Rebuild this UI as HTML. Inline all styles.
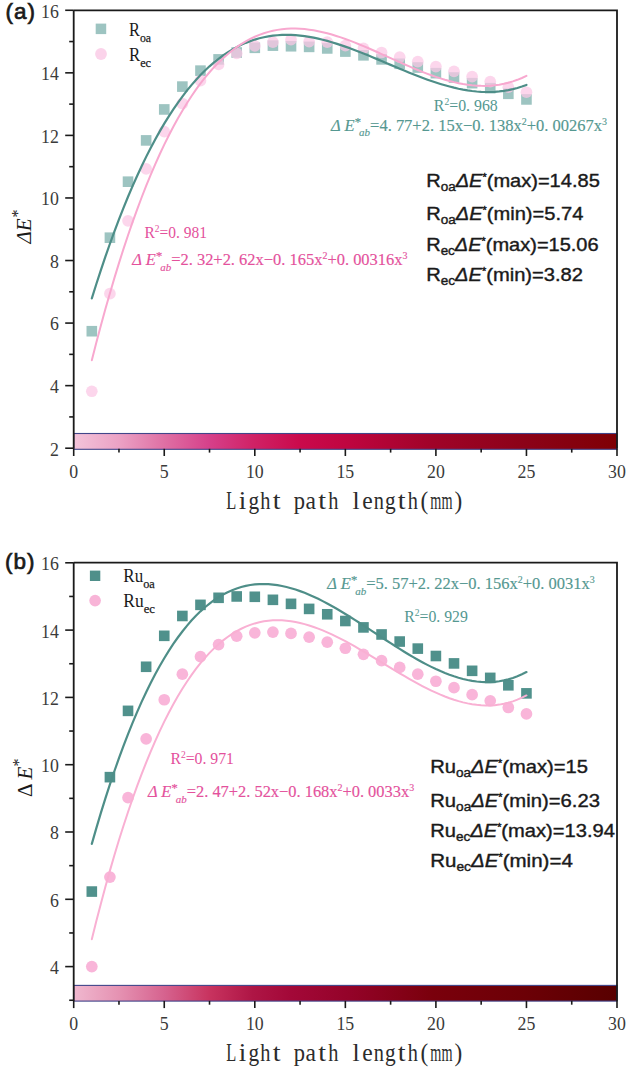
<!DOCTYPE html><html><head><meta charset="utf-8"><style>html,body{margin:0;padding:0;background:#fff;}svg{display:block;}</style></head><body><svg width="629" height="1070" viewBox="0 0 629 1070">
<defs>
<linearGradient id="ga" x1="0" x2="1" y1="0" y2="0"><stop offset="0" stop-color="#f3c4da"/><stop offset="0.083" stop-color="#eba2c5"/><stop offset="0.166" stop-color="#df70a4"/><stop offset="0.25" stop-color="#d6408a"/><stop offset="0.33" stop-color="#d02266"/><stop offset="0.415" stop-color="#ca0a4c"/><stop offset="0.5" stop-color="#c00540"/><stop offset="0.66" stop-color="#a00328"/><stop offset="0.83" stop-color="#8c0218"/><stop offset="1" stop-color="#7f0005"/></linearGradient>
<linearGradient id="gb" x1="0" x2="1" y1="0" y2="0"><stop offset="0" stop-color="#f0b8cf"/><stop offset="0.083" stop-color="#e592b2"/><stop offset="0.166" stop-color="#d6638f"/><stop offset="0.25" stop-color="#c8335f"/><stop offset="0.33" stop-color="#ae1545"/><stop offset="0.4" stop-color="#a30838"/><stop offset="0.5" stop-color="#95032a"/><stop offset="0.66" stop-color="#7a000c"/><stop offset="0.83" stop-color="#6c0006"/><stop offset="1" stop-color="#580000"/></linearGradient>
</defs>
<rect width="629" height="1070" fill="#ffffff"/>
<rect x="73.7" y="433.5" width="543.3" height="15.800000000000011" fill="url(#ga)" stroke="#41468a" stroke-width="1.1"/>
<path d="M73.7,10.3 H617.0 V448.8 M73.7,10.3 V448.8" fill="none" stroke="#1a1a1a" stroke-width="1.8"/>
<line x1="65.2" y1="448.20" x2="73.7" y2="448.20" stroke="#1a1a1a" stroke-width="1.6"/>
<text x="58.8" y="455.60" text-anchor="end" font-family="'Liberation Serif', serif" font-size="17.8" fill="#3a3a3a">2</text>
<line x1="69.2" y1="416.92" x2="73.7" y2="416.92" stroke="#1a1a1a" stroke-width="1.6"/>
<line x1="65.2" y1="385.64" x2="73.7" y2="385.64" stroke="#1a1a1a" stroke-width="1.6"/>
<text x="58.8" y="393.04" text-anchor="end" font-family="'Liberation Serif', serif" font-size="17.8" fill="#3a3a3a">4</text>
<line x1="69.2" y1="354.36" x2="73.7" y2="354.36" stroke="#1a1a1a" stroke-width="1.6"/>
<line x1="65.2" y1="323.08" x2="73.7" y2="323.08" stroke="#1a1a1a" stroke-width="1.6"/>
<text x="58.8" y="330.48" text-anchor="end" font-family="'Liberation Serif', serif" font-size="17.8" fill="#3a3a3a">6</text>
<line x1="69.2" y1="291.80" x2="73.7" y2="291.80" stroke="#1a1a1a" stroke-width="1.6"/>
<line x1="65.2" y1="260.52" x2="73.7" y2="260.52" stroke="#1a1a1a" stroke-width="1.6"/>
<text x="58.8" y="267.92" text-anchor="end" font-family="'Liberation Serif', serif" font-size="17.8" fill="#3a3a3a">8</text>
<line x1="69.2" y1="229.24" x2="73.7" y2="229.24" stroke="#1a1a1a" stroke-width="1.6"/>
<line x1="65.2" y1="197.96" x2="73.7" y2="197.96" stroke="#1a1a1a" stroke-width="1.6"/>
<text x="58.8" y="205.36" text-anchor="end" font-family="'Liberation Serif', serif" font-size="17.8" fill="#3a3a3a">10</text>
<line x1="69.2" y1="166.68" x2="73.7" y2="166.68" stroke="#1a1a1a" stroke-width="1.6"/>
<line x1="65.2" y1="135.40" x2="73.7" y2="135.40" stroke="#1a1a1a" stroke-width="1.6"/>
<text x="58.8" y="142.80" text-anchor="end" font-family="'Liberation Serif', serif" font-size="17.8" fill="#3a3a3a">12</text>
<line x1="69.2" y1="104.12" x2="73.7" y2="104.12" stroke="#1a1a1a" stroke-width="1.6"/>
<line x1="65.2" y1="72.84" x2="73.7" y2="72.84" stroke="#1a1a1a" stroke-width="1.6"/>
<text x="58.8" y="80.24" text-anchor="end" font-family="'Liberation Serif', serif" font-size="17.8" fill="#3a3a3a">14</text>
<line x1="69.2" y1="41.56" x2="73.7" y2="41.56" stroke="#1a1a1a" stroke-width="1.6"/>
<line x1="65.2" y1="10.28" x2="73.7" y2="10.28" stroke="#1a1a1a" stroke-width="1.6"/>
<text x="58.8" y="17.68" text-anchor="end" font-family="'Liberation Serif', serif" font-size="17.8" fill="#3a3a3a">16</text>
<line x1="73.70" y1="448.8" x2="73.70" y2="456.0" stroke="#1a1a1a" stroke-width="1.6"/>
<text x="73.70" y="478.30" text-anchor="middle" font-family="'Liberation Serif', serif" font-size="17.8" fill="#3a3a3a">0</text>
<line x1="118.97" y1="448.8" x2="118.97" y2="452.6" stroke="#1a1a1a" stroke-width="1.6"/>
<line x1="164.25" y1="448.8" x2="164.25" y2="456.0" stroke="#1a1a1a" stroke-width="1.6"/>
<text x="164.25" y="478.30" text-anchor="middle" font-family="'Liberation Serif', serif" font-size="17.8" fill="#3a3a3a">5</text>
<line x1="209.52" y1="448.8" x2="209.52" y2="452.6" stroke="#1a1a1a" stroke-width="1.6"/>
<line x1="254.80" y1="448.8" x2="254.80" y2="456.0" stroke="#1a1a1a" stroke-width="1.6"/>
<text x="254.80" y="478.30" text-anchor="middle" font-family="'Liberation Serif', serif" font-size="17.8" fill="#3a3a3a">10</text>
<line x1="300.07" y1="448.8" x2="300.07" y2="452.6" stroke="#1a1a1a" stroke-width="1.6"/>
<line x1="345.35" y1="448.8" x2="345.35" y2="456.0" stroke="#1a1a1a" stroke-width="1.6"/>
<text x="345.35" y="478.30" text-anchor="middle" font-family="'Liberation Serif', serif" font-size="17.8" fill="#3a3a3a">15</text>
<line x1="390.62" y1="448.8" x2="390.62" y2="452.6" stroke="#1a1a1a" stroke-width="1.6"/>
<line x1="435.90" y1="448.8" x2="435.90" y2="456.0" stroke="#1a1a1a" stroke-width="1.6"/>
<text x="435.90" y="478.30" text-anchor="middle" font-family="'Liberation Serif', serif" font-size="17.8" fill="#3a3a3a">20</text>
<line x1="481.17" y1="448.8" x2="481.17" y2="452.6" stroke="#1a1a1a" stroke-width="1.6"/>
<line x1="526.45" y1="448.8" x2="526.45" y2="456.0" stroke="#1a1a1a" stroke-width="1.6"/>
<text x="526.45" y="478.30" text-anchor="middle" font-family="'Liberation Serif', serif" font-size="17.8" fill="#3a3a3a">25</text>
<line x1="571.73" y1="448.8" x2="571.73" y2="452.6" stroke="#1a1a1a" stroke-width="1.6"/>
<line x1="617.00" y1="448.8" x2="617.00" y2="456.0" stroke="#1a1a1a" stroke-width="1.6"/>
<text x="617.00" y="478.30" text-anchor="middle" font-family="'Liberation Serif', serif" font-size="17.8" fill="#3a3a3a">30</text>
<text transform="translate(231.18,508.50) scale(0.67,1)" text-anchor="middle" font-family="'Liberation Serif', serif" font-size="24.5" fill="#2c2c2c">L</text>
<text transform="translate(242.54,508.50) scale(1.1,1)" text-anchor="middle" font-family="'Liberation Serif', serif" font-size="24.5" fill="#2c2c2c">i</text>
<text transform="translate(253.90,508.50) scale(0.87,1)" text-anchor="middle" font-family="'Liberation Serif', serif" font-size="24.5" fill="#2c2c2c">g</text>
<text transform="translate(265.26,508.50) scale(0.83,1)" text-anchor="middle" font-family="'Liberation Serif', serif" font-size="24.5" fill="#2c2c2c">h</text>
<text transform="translate(276.62,508.50) scale(1.15,1)" text-anchor="middle" font-family="'Liberation Serif', serif" font-size="24.5" fill="#2c2c2c">t</text>
<text transform="translate(299.34,508.50) scale(0.92,1)" text-anchor="middle" font-family="'Liberation Serif', serif" font-size="24.5" fill="#2c2c2c">p</text>
<text transform="translate(310.70,508.50) scale(0.96,1)" text-anchor="middle" font-family="'Liberation Serif', serif" font-size="24.5" fill="#2c2c2c">a</text>
<text transform="translate(322.06,508.50) scale(1.15,1)" text-anchor="middle" font-family="'Liberation Serif', serif" font-size="24.5" fill="#2c2c2c">t</text>
<text transform="translate(333.42,508.50) scale(0.83,1)" text-anchor="middle" font-family="'Liberation Serif', serif" font-size="24.5" fill="#2c2c2c">h</text>
<text transform="translate(356.14,508.50) scale(1.05,1)" text-anchor="middle" font-family="'Liberation Serif', serif" font-size="24.5" fill="#2c2c2c">l</text>
<text transform="translate(367.50,508.50) scale(0.96,1)" text-anchor="middle" font-family="'Liberation Serif', serif" font-size="24.5" fill="#2c2c2c">e</text>
<text transform="translate(378.86,508.50) scale(0.83,1)" text-anchor="middle" font-family="'Liberation Serif', serif" font-size="24.5" fill="#2c2c2c">n</text>
<text transform="translate(390.22,508.50) scale(0.87,1)" text-anchor="middle" font-family="'Liberation Serif', serif" font-size="24.5" fill="#2c2c2c">g</text>
<text transform="translate(401.58,508.50) scale(1.15,1)" text-anchor="middle" font-family="'Liberation Serif', serif" font-size="24.5" fill="#2c2c2c">t</text>
<text transform="translate(412.94,508.50) scale(0.83,1)" text-anchor="middle" font-family="'Liberation Serif', serif" font-size="24.5" fill="#2c2c2c">h</text>
<text transform="translate(424.30,508.50) scale(0.95,1)" text-anchor="middle" font-family="'Liberation Serif', serif" font-size="24.5" fill="#2c2c2c">(</text>
<text transform="translate(435.66,508.50) scale(0.58,1)" text-anchor="middle" font-family="'Liberation Serif', serif" font-size="24.5" fill="#2c2c2c">m</text>
<text transform="translate(447.02,508.50) scale(0.58,1)" text-anchor="middle" font-family="'Liberation Serif', serif" font-size="24.5" fill="#2c2c2c">m</text>
<text transform="translate(458.38,508.50) scale(0.95,1)" text-anchor="middle" font-family="'Liberation Serif', serif" font-size="24.5" fill="#2c2c2c">)</text>
<text x="5.6" y="19.3" font-family="'Liberation Sans', sans-serif" font-size="22.5" letter-spacing="1.0" fill="#1a1a1a" stroke="#1a1a1a" stroke-width="0.7">(a)</text>
<rect x="86.51" y="325.91" width="10.6" height="10.6" fill="#9dc4c1" fill-opacity="1.0"/>
<rect x="104.62" y="232.39" width="10.6" height="10.6" fill="#9dc4c1" fill-opacity="1.0"/>
<rect x="122.73" y="176.39" width="10.6" height="10.6" fill="#9dc4c1" fill-opacity="1.0"/>
<rect x="140.84" y="135.10" width="10.6" height="10.6" fill="#9dc4c1" fill-opacity="1.0"/>
<rect x="158.95" y="104.14" width="10.6" height="10.6" fill="#9dc4c1" fill-opacity="1.0"/>
<rect x="177.06" y="81.30" width="10.6" height="10.6" fill="#9dc4c1" fill-opacity="1.0"/>
<rect x="195.17" y="65.35" width="10.6" height="10.6" fill="#9dc4c1" fill-opacity="1.0"/>
<rect x="213.28" y="54.09" width="10.6" height="10.6" fill="#9dc4c1" fill-opacity="1.0"/>
<rect x="231.39" y="47.21" width="10.6" height="10.6" fill="#9dc4c1" fill-opacity="1.0"/>
<rect x="249.50" y="42.52" width="10.6" height="10.6" fill="#9dc4c1" fill-opacity="1.0"/>
<rect x="267.61" y="40.33" width="10.6" height="10.6" fill="#9dc4c1" fill-opacity="1.0"/>
<rect x="285.72" y="40.95" width="10.6" height="10.6" fill="#9dc4c1" fill-opacity="1.0"/>
<rect x="303.83" y="41.58" width="10.6" height="10.6" fill="#9dc4c1" fill-opacity="1.0"/>
<rect x="321.94" y="43.14" width="10.6" height="10.6" fill="#9dc4c1" fill-opacity="1.0"/>
<rect x="340.05" y="46.27" width="10.6" height="10.6" fill="#9dc4c1" fill-opacity="1.0"/>
<rect x="358.16" y="50.02" width="10.6" height="10.6" fill="#9dc4c1" fill-opacity="1.0"/>
<rect x="376.27" y="54.09" width="10.6" height="10.6" fill="#9dc4c1" fill-opacity="1.0"/>
<rect x="394.38" y="58.47" width="10.6" height="10.6" fill="#9dc4c1" fill-opacity="1.0"/>
<rect x="412.49" y="62.22" width="10.6" height="10.6" fill="#9dc4c1" fill-opacity="1.0"/>
<rect x="430.60" y="67.85" width="10.6" height="10.6" fill="#9dc4c1" fill-opacity="1.0"/>
<rect x="448.71" y="72.23" width="10.6" height="10.6" fill="#9dc4c1" fill-opacity="1.0"/>
<rect x="466.82" y="77.86" width="10.6" height="10.6" fill="#9dc4c1" fill-opacity="1.0"/>
<rect x="484.93" y="82.87" width="10.6" height="10.6" fill="#9dc4c1" fill-opacity="1.0"/>
<rect x="503.04" y="88.50" width="10.6" height="10.6" fill="#9dc4c1" fill-opacity="1.0"/>
<rect x="521.15" y="94.13" width="10.6" height="10.6" fill="#9dc4c1" fill-opacity="1.0"/>
<circle cx="91.81" cy="391.27" r="5.85" fill="#fbc6e4" fill-opacity="0.72"/>
<circle cx="109.92" cy="293.68" r="5.85" fill="#fbc6e4" fill-opacity="0.72"/>
<circle cx="128.03" cy="220.79" r="5.85" fill="#fbc6e4" fill-opacity="0.72"/>
<circle cx="146.14" cy="168.87" r="5.85" fill="#fbc6e4" fill-opacity="0.72"/>
<circle cx="164.25" cy="131.65" r="5.85" fill="#fbc6e4" fill-opacity="0.72"/>
<circle cx="182.36" cy="103.49" r="5.85" fill="#fbc6e4" fill-opacity="0.72"/>
<circle cx="200.47" cy="80.66" r="5.85" fill="#fbc6e4" fill-opacity="0.72"/>
<circle cx="218.58" cy="64.39" r="5.85" fill="#fbc6e4" fill-opacity="0.72"/>
<circle cx="236.69" cy="53.45" r="5.85" fill="#fbc6e4" fill-opacity="0.72"/>
<circle cx="254.80" cy="45.94" r="5.85" fill="#fbc6e4" fill-opacity="0.72"/>
<circle cx="272.91" cy="42.19" r="5.85" fill="#fbc6e4" fill-opacity="0.72"/>
<circle cx="291.02" cy="39.68" r="5.85" fill="#fbc6e4" fill-opacity="0.72"/>
<circle cx="309.13" cy="41.56" r="5.85" fill="#fbc6e4" fill-opacity="0.72"/>
<circle cx="327.24" cy="42.19" r="5.85" fill="#fbc6e4" fill-opacity="0.72"/>
<circle cx="345.35" cy="45.63" r="5.85" fill="#fbc6e4" fill-opacity="0.72"/>
<circle cx="363.46" cy="48.44" r="5.85" fill="#fbc6e4" fill-opacity="0.72"/>
<circle cx="381.57" cy="52.51" r="5.85" fill="#fbc6e4" fill-opacity="0.72"/>
<circle cx="399.68" cy="57.20" r="5.85" fill="#fbc6e4" fill-opacity="0.72"/>
<circle cx="417.79" cy="61.58" r="5.85" fill="#fbc6e4" fill-opacity="0.72"/>
<circle cx="435.90" cy="66.58" r="5.85" fill="#fbc6e4" fill-opacity="0.72"/>
<circle cx="454.01" cy="71.28" r="5.85" fill="#fbc6e4" fill-opacity="0.72"/>
<circle cx="472.12" cy="76.59" r="5.85" fill="#fbc6e4" fill-opacity="0.72"/>
<circle cx="490.23" cy="81.60" r="5.85" fill="#fbc6e4" fill-opacity="0.72"/>
<circle cx="508.34" cy="87.23" r="5.85" fill="#fbc6e4" fill-opacity="0.72"/>
<circle cx="526.45" cy="92.23" r="5.85" fill="#fbc6e4" fill-opacity="0.72"/>
<path d="M91.81,298.38 L96.34,283.97 L100.87,270.07 L105.39,256.67 L109.92,243.74 L114.45,231.29 L118.97,219.32 L123.50,207.80 L128.03,196.74 L132.56,186.12 L137.09,175.95 L141.61,166.20 L146.14,156.87 L150.67,147.96 L155.19,139.46 L159.72,131.35 L164.25,123.64 L168.78,116.31 L173.31,109.36 L177.83,102.77 L182.36,96.55 L186.89,90.67 L191.42,85.15 L195.94,79.95 L200.47,75.09 L205.00,70.55 L209.52,66.32 L214.05,62.40 L218.58,58.78 L223.11,55.44 L227.63,52.39 L232.16,49.61 L236.69,47.10 L241.22,44.85 L245.75,42.85 L250.27,41.10 L254.80,39.58 L259.33,38.28 L263.86,37.21 L268.38,36.35 L272.91,35.69 L277.44,35.23 L281.96,34.96 L286.49,34.87 L291.02,34.96 L295.55,35.21 L300.07,35.61 L304.60,36.17 L309.13,36.87 L313.66,37.70 L318.19,38.66 L322.71,39.74 L327.24,40.93 L331.77,42.22 L336.29,43.61 L340.82,45.09 L345.35,46.64 L349.88,48.27 L354.40,49.96 L358.93,51.71 L363.46,53.51 L367.99,55.35 L372.51,57.22 L377.04,59.12 L381.57,61.03 L386.10,62.95 L390.62,64.88 L395.15,66.80 L399.68,68.71 L404.21,70.59 L408.73,72.45 L413.26,74.27 L417.79,76.04 L422.32,77.76 L426.84,79.42 L431.37,81.02 L435.90,82.53 L440.43,83.97 L444.95,85.31 L449.48,86.55 L454.01,87.69 L458.54,88.71 L463.06,89.61 L467.59,90.37 L472.12,91.00 L476.65,91.49 L481.17,91.81 L485.70,91.98 L490.23,91.98 L494.76,91.80 L499.28,91.44 L503.81,90.88 L508.34,90.13 L512.87,89.16 L517.39,87.98 L521.92,86.57 L526.45,84.94" fill="none" stroke="#4e8e88" stroke-width="2.2" stroke-linecap="round"/>
<path d="M91.81,360.24 L96.34,342.58 L100.87,325.52 L105.39,309.05 L109.92,293.17 L114.45,277.85 L118.97,263.11 L123.50,248.91 L128.03,235.27 L132.56,222.15 L137.09,209.57 L141.61,197.50 L146.14,185.94 L150.67,174.88 L155.19,164.31 L159.72,154.22 L164.25,144.60 L168.78,135.44 L173.31,126.73 L177.83,118.47 L182.36,110.64 L186.89,103.23 L191.42,96.24 L195.94,89.66 L200.47,83.47 L205.00,77.67 L209.52,72.24 L214.05,67.19 L218.58,62.49 L223.11,58.15 L227.63,54.14 L232.16,50.47 L236.69,47.11 L241.22,44.07 L245.75,41.34 L250.27,38.89 L254.80,36.73 L259.33,34.85 L263.86,33.23 L268.38,31.87 L272.91,30.76 L277.44,29.88 L281.96,29.24 L286.49,28.81 L291.02,28.59 L295.55,28.58 L300.07,28.75 L304.60,29.11 L309.13,29.64 L313.66,30.34 L318.19,31.18 L322.71,32.18 L327.24,33.31 L331.77,34.56 L336.29,35.93 L340.82,37.41 L345.35,38.99 L349.88,40.66 L354.40,42.40 L358.93,44.22 L363.46,46.10 L367.99,48.03 L372.51,50.00 L377.04,52.01 L381.57,54.04 L386.10,56.08 L390.62,58.13 L395.15,60.18 L399.68,62.21 L404.21,64.22 L408.73,66.19 L413.26,68.13 L417.79,70.01 L422.32,71.84 L426.84,73.59 L431.37,75.27 L435.90,76.86 L440.43,78.35 L444.95,79.74 L449.48,81.01 L454.01,82.15 L458.54,83.16 L463.06,84.03 L467.59,84.74 L472.12,85.29 L476.65,85.67 L481.17,85.87 L485.70,85.88 L490.23,85.68 L494.76,85.28 L499.28,84.66 L503.81,83.81 L508.34,82.73 L512.87,81.40 L517.39,79.81 L521.92,77.96 L526.45,75.84" fill="none" stroke="#f8a8cf" stroke-width="2.0" stroke-linecap="round"/>
<rect x="73.7" y="985.4" width="543.3" height="15.700000000000045" fill="url(#gb)" stroke="#41468a" stroke-width="1.1"/>
<path d="M73.7,562.6 H617.0 V1000.9 M73.7,562.6 V1000.9" fill="none" stroke="#1a1a1a" stroke-width="1.8"/>
<line x1="69.2" y1="1000.25" x2="73.7" y2="1000.25" stroke="#1a1a1a" stroke-width="1.6"/>
<line x1="65.2" y1="966.60" x2="73.7" y2="966.60" stroke="#1a1a1a" stroke-width="1.6"/>
<text x="58.8" y="974.00" text-anchor="end" font-family="'Liberation Serif', serif" font-size="17.8" fill="#3a3a3a">4</text>
<line x1="69.2" y1="932.95" x2="73.7" y2="932.95" stroke="#1a1a1a" stroke-width="1.6"/>
<line x1="65.2" y1="899.30" x2="73.7" y2="899.30" stroke="#1a1a1a" stroke-width="1.6"/>
<text x="58.8" y="906.70" text-anchor="end" font-family="'Liberation Serif', serif" font-size="17.8" fill="#3a3a3a">6</text>
<line x1="69.2" y1="865.65" x2="73.7" y2="865.65" stroke="#1a1a1a" stroke-width="1.6"/>
<line x1="65.2" y1="832.00" x2="73.7" y2="832.00" stroke="#1a1a1a" stroke-width="1.6"/>
<text x="58.8" y="839.40" text-anchor="end" font-family="'Liberation Serif', serif" font-size="17.8" fill="#3a3a3a">8</text>
<line x1="69.2" y1="798.35" x2="73.7" y2="798.35" stroke="#1a1a1a" stroke-width="1.6"/>
<line x1="65.2" y1="764.70" x2="73.7" y2="764.70" stroke="#1a1a1a" stroke-width="1.6"/>
<text x="58.8" y="772.10" text-anchor="end" font-family="'Liberation Serif', serif" font-size="17.8" fill="#3a3a3a">10</text>
<line x1="69.2" y1="731.05" x2="73.7" y2="731.05" stroke="#1a1a1a" stroke-width="1.6"/>
<line x1="65.2" y1="697.40" x2="73.7" y2="697.40" stroke="#1a1a1a" stroke-width="1.6"/>
<text x="58.8" y="704.80" text-anchor="end" font-family="'Liberation Serif', serif" font-size="17.8" fill="#3a3a3a">12</text>
<line x1="69.2" y1="663.75" x2="73.7" y2="663.75" stroke="#1a1a1a" stroke-width="1.6"/>
<line x1="65.2" y1="630.10" x2="73.7" y2="630.10" stroke="#1a1a1a" stroke-width="1.6"/>
<text x="58.8" y="637.50" text-anchor="end" font-family="'Liberation Serif', serif" font-size="17.8" fill="#3a3a3a">14</text>
<line x1="69.2" y1="596.45" x2="73.7" y2="596.45" stroke="#1a1a1a" stroke-width="1.6"/>
<line x1="65.2" y1="562.80" x2="73.7" y2="562.80" stroke="#1a1a1a" stroke-width="1.6"/>
<text x="58.8" y="570.20" text-anchor="end" font-family="'Liberation Serif', serif" font-size="17.8" fill="#3a3a3a">16</text>
<line x1="73.70" y1="1000.9" x2="73.70" y2="1008.1" stroke="#1a1a1a" stroke-width="1.6"/>
<text x="73.70" y="1030.40" text-anchor="middle" font-family="'Liberation Serif', serif" font-size="17.8" fill="#3a3a3a">0</text>
<line x1="118.97" y1="1000.9" x2="118.97" y2="1004.6999999999999" stroke="#1a1a1a" stroke-width="1.6"/>
<line x1="164.25" y1="1000.9" x2="164.25" y2="1008.1" stroke="#1a1a1a" stroke-width="1.6"/>
<text x="164.25" y="1030.40" text-anchor="middle" font-family="'Liberation Serif', serif" font-size="17.8" fill="#3a3a3a">5</text>
<line x1="209.52" y1="1000.9" x2="209.52" y2="1004.6999999999999" stroke="#1a1a1a" stroke-width="1.6"/>
<line x1="254.80" y1="1000.9" x2="254.80" y2="1008.1" stroke="#1a1a1a" stroke-width="1.6"/>
<text x="254.80" y="1030.40" text-anchor="middle" font-family="'Liberation Serif', serif" font-size="17.8" fill="#3a3a3a">10</text>
<line x1="300.07" y1="1000.9" x2="300.07" y2="1004.6999999999999" stroke="#1a1a1a" stroke-width="1.6"/>
<line x1="345.35" y1="1000.9" x2="345.35" y2="1008.1" stroke="#1a1a1a" stroke-width="1.6"/>
<text x="345.35" y="1030.40" text-anchor="middle" font-family="'Liberation Serif', serif" font-size="17.8" fill="#3a3a3a">15</text>
<line x1="390.62" y1="1000.9" x2="390.62" y2="1004.6999999999999" stroke="#1a1a1a" stroke-width="1.6"/>
<line x1="435.90" y1="1000.9" x2="435.90" y2="1008.1" stroke="#1a1a1a" stroke-width="1.6"/>
<text x="435.90" y="1030.40" text-anchor="middle" font-family="'Liberation Serif', serif" font-size="17.8" fill="#3a3a3a">20</text>
<line x1="481.17" y1="1000.9" x2="481.17" y2="1004.6999999999999" stroke="#1a1a1a" stroke-width="1.6"/>
<line x1="526.45" y1="1000.9" x2="526.45" y2="1008.1" stroke="#1a1a1a" stroke-width="1.6"/>
<text x="526.45" y="1030.40" text-anchor="middle" font-family="'Liberation Serif', serif" font-size="17.8" fill="#3a3a3a">25</text>
<line x1="571.73" y1="1000.9" x2="571.73" y2="1004.6999999999999" stroke="#1a1a1a" stroke-width="1.6"/>
<line x1="617.00" y1="1000.9" x2="617.00" y2="1008.1" stroke="#1a1a1a" stroke-width="1.6"/>
<text x="617.00" y="1030.40" text-anchor="middle" font-family="'Liberation Serif', serif" font-size="17.8" fill="#3a3a3a">30</text>
<text transform="translate(231.18,1060.60) scale(0.67,1)" text-anchor="middle" font-family="'Liberation Serif', serif" font-size="24.5" fill="#2c2c2c">L</text>
<text transform="translate(242.54,1060.60) scale(1.1,1)" text-anchor="middle" font-family="'Liberation Serif', serif" font-size="24.5" fill="#2c2c2c">i</text>
<text transform="translate(253.90,1060.60) scale(0.87,1)" text-anchor="middle" font-family="'Liberation Serif', serif" font-size="24.5" fill="#2c2c2c">g</text>
<text transform="translate(265.26,1060.60) scale(0.83,1)" text-anchor="middle" font-family="'Liberation Serif', serif" font-size="24.5" fill="#2c2c2c">h</text>
<text transform="translate(276.62,1060.60) scale(1.15,1)" text-anchor="middle" font-family="'Liberation Serif', serif" font-size="24.5" fill="#2c2c2c">t</text>
<text transform="translate(299.34,1060.60) scale(0.92,1)" text-anchor="middle" font-family="'Liberation Serif', serif" font-size="24.5" fill="#2c2c2c">p</text>
<text transform="translate(310.70,1060.60) scale(0.96,1)" text-anchor="middle" font-family="'Liberation Serif', serif" font-size="24.5" fill="#2c2c2c">a</text>
<text transform="translate(322.06,1060.60) scale(1.15,1)" text-anchor="middle" font-family="'Liberation Serif', serif" font-size="24.5" fill="#2c2c2c">t</text>
<text transform="translate(333.42,1060.60) scale(0.83,1)" text-anchor="middle" font-family="'Liberation Serif', serif" font-size="24.5" fill="#2c2c2c">h</text>
<text transform="translate(356.14,1060.60) scale(1.05,1)" text-anchor="middle" font-family="'Liberation Serif', serif" font-size="24.5" fill="#2c2c2c">l</text>
<text transform="translate(367.50,1060.60) scale(0.96,1)" text-anchor="middle" font-family="'Liberation Serif', serif" font-size="24.5" fill="#2c2c2c">e</text>
<text transform="translate(378.86,1060.60) scale(0.83,1)" text-anchor="middle" font-family="'Liberation Serif', serif" font-size="24.5" fill="#2c2c2c">n</text>
<text transform="translate(390.22,1060.60) scale(0.87,1)" text-anchor="middle" font-family="'Liberation Serif', serif" font-size="24.5" fill="#2c2c2c">g</text>
<text transform="translate(401.58,1060.60) scale(1.15,1)" text-anchor="middle" font-family="'Liberation Serif', serif" font-size="24.5" fill="#2c2c2c">t</text>
<text transform="translate(412.94,1060.60) scale(0.83,1)" text-anchor="middle" font-family="'Liberation Serif', serif" font-size="24.5" fill="#2c2c2c">h</text>
<text transform="translate(424.30,1060.60) scale(0.95,1)" text-anchor="middle" font-family="'Liberation Serif', serif" font-size="24.5" fill="#2c2c2c">(</text>
<text transform="translate(435.66,1060.60) scale(0.58,1)" text-anchor="middle" font-family="'Liberation Serif', serif" font-size="24.5" fill="#2c2c2c">m</text>
<text transform="translate(447.02,1060.60) scale(0.58,1)" text-anchor="middle" font-family="'Liberation Serif', serif" font-size="24.5" fill="#2c2c2c">m</text>
<text transform="translate(458.38,1060.60) scale(0.95,1)" text-anchor="middle" font-family="'Liberation Serif', serif" font-size="24.5" fill="#2c2c2c">)</text>
<text x="5.1" y="569.1" font-family="'Liberation Sans', sans-serif" font-size="22.5" letter-spacing="1.0" fill="#1a1a1a" stroke="#1a1a1a" stroke-width="0.7">(b)</text>
<rect x="86.51" y="886.26" width="10.6" height="10.6" fill="#50918c" fill-opacity="1.0"/>
<rect x="104.62" y="771.85" width="10.6" height="10.6" fill="#50918c" fill-opacity="1.0"/>
<rect x="122.73" y="705.56" width="10.6" height="10.6" fill="#50918c" fill-opacity="1.0"/>
<rect x="140.84" y="661.48" width="10.6" height="10.6" fill="#50918c" fill-opacity="1.0"/>
<rect x="158.95" y="630.52" width="10.6" height="10.6" fill="#50918c" fill-opacity="1.0"/>
<rect x="177.06" y="610.67" width="10.6" height="10.6" fill="#50918c" fill-opacity="1.0"/>
<rect x="195.17" y="599.56" width="10.6" height="10.6" fill="#50918c" fill-opacity="1.0"/>
<rect x="213.28" y="592.50" width="10.6" height="10.6" fill="#50918c" fill-opacity="1.0"/>
<rect x="231.39" y="591.15" width="10.6" height="10.6" fill="#50918c" fill-opacity="1.0"/>
<rect x="249.50" y="591.49" width="10.6" height="10.6" fill="#50918c" fill-opacity="1.0"/>
<rect x="267.61" y="594.52" width="10.6" height="10.6" fill="#50918c" fill-opacity="1.0"/>
<rect x="285.72" y="598.55" width="10.6" height="10.6" fill="#50918c" fill-opacity="1.0"/>
<rect x="303.83" y="603.60" width="10.6" height="10.6" fill="#50918c" fill-opacity="1.0"/>
<rect x="321.94" y="608.98" width="10.6" height="10.6" fill="#50918c" fill-opacity="1.0"/>
<rect x="340.05" y="615.71" width="10.6" height="10.6" fill="#50918c" fill-opacity="1.0"/>
<rect x="358.16" y="622.11" width="10.6" height="10.6" fill="#50918c" fill-opacity="1.0"/>
<rect x="376.27" y="629.17" width="10.6" height="10.6" fill="#50918c" fill-opacity="1.0"/>
<rect x="394.38" y="636.24" width="10.6" height="10.6" fill="#50918c" fill-opacity="1.0"/>
<rect x="412.49" y="643.31" width="10.6" height="10.6" fill="#50918c" fill-opacity="1.0"/>
<rect x="430.60" y="650.71" width="10.6" height="10.6" fill="#50918c" fill-opacity="1.0"/>
<rect x="448.71" y="658.11" width="10.6" height="10.6" fill="#50918c" fill-opacity="1.0"/>
<rect x="466.82" y="665.52" width="10.6" height="10.6" fill="#50918c" fill-opacity="1.0"/>
<rect x="484.93" y="672.58" width="10.6" height="10.6" fill="#50918c" fill-opacity="1.0"/>
<rect x="503.04" y="679.99" width="10.6" height="10.6" fill="#50918c" fill-opacity="1.0"/>
<rect x="521.15" y="688.06" width="10.6" height="10.6" fill="#50918c" fill-opacity="1.0"/>
<circle cx="91.81" cy="966.60" r="5.85" fill="#f9b5d9" fill-opacity="1.0"/>
<circle cx="109.92" cy="877.09" r="5.85" fill="#f9b5d9" fill-opacity="1.0"/>
<circle cx="128.03" cy="797.68" r="5.85" fill="#f9b5d9" fill-opacity="1.0"/>
<circle cx="146.14" cy="738.79" r="5.85" fill="#f9b5d9" fill-opacity="1.0"/>
<circle cx="164.25" cy="699.76" r="5.85" fill="#f9b5d9" fill-opacity="1.0"/>
<circle cx="182.36" cy="674.18" r="5.85" fill="#f9b5d9" fill-opacity="1.0"/>
<circle cx="200.47" cy="656.68" r="5.85" fill="#f9b5d9" fill-opacity="1.0"/>
<circle cx="218.58" cy="644.57" r="5.85" fill="#f9b5d9" fill-opacity="1.0"/>
<circle cx="236.69" cy="636.16" r="5.85" fill="#f9b5d9" fill-opacity="1.0"/>
<circle cx="254.80" cy="632.79" r="5.85" fill="#f9b5d9" fill-opacity="1.0"/>
<circle cx="272.91" cy="632.12" r="5.85" fill="#f9b5d9" fill-opacity="1.0"/>
<circle cx="291.02" cy="633.47" r="5.85" fill="#f9b5d9" fill-opacity="1.0"/>
<circle cx="309.13" cy="637.17" r="5.85" fill="#f9b5d9" fill-opacity="1.0"/>
<circle cx="327.24" cy="642.21" r="5.85" fill="#f9b5d9" fill-opacity="1.0"/>
<circle cx="345.35" cy="648.27" r="5.85" fill="#f9b5d9" fill-opacity="1.0"/>
<circle cx="363.46" cy="654.33" r="5.85" fill="#f9b5d9" fill-opacity="1.0"/>
<circle cx="381.57" cy="660.72" r="5.85" fill="#f9b5d9" fill-opacity="1.0"/>
<circle cx="399.68" cy="667.45" r="5.85" fill="#f9b5d9" fill-opacity="1.0"/>
<circle cx="417.79" cy="674.18" r="5.85" fill="#f9b5d9" fill-opacity="1.0"/>
<circle cx="435.90" cy="681.25" r="5.85" fill="#f9b5d9" fill-opacity="1.0"/>
<circle cx="454.01" cy="687.64" r="5.85" fill="#f9b5d9" fill-opacity="1.0"/>
<circle cx="472.12" cy="694.71" r="5.85" fill="#f9b5d9" fill-opacity="1.0"/>
<circle cx="490.23" cy="700.77" r="5.85" fill="#f9b5d9" fill-opacity="1.0"/>
<circle cx="508.34" cy="707.50" r="5.85" fill="#f9b5d9" fill-opacity="1.0"/>
<circle cx="526.45" cy="713.89" r="5.85" fill="#f9b5d9" fill-opacity="1.0"/>
<path d="M91.81,843.84 L96.34,828.09 L100.87,812.94 L105.39,798.38 L109.92,784.40 L114.45,770.99 L118.97,758.13 L123.50,745.83 L128.03,734.06 L132.56,722.83 L137.09,712.11 L141.61,701.91 L146.14,692.21 L150.67,683.00 L155.19,674.27 L159.72,666.01 L164.25,658.22 L168.78,650.87 L173.31,643.98 L177.83,637.51 L182.36,631.47 L186.89,625.84 L191.42,620.61 L195.94,615.78 L200.47,611.33 L205.00,607.26 L209.52,603.55 L214.05,600.20 L218.58,597.20 L223.11,594.53 L227.63,592.18 L232.16,590.16 L236.69,588.43 L241.22,587.01 L245.75,585.88 L250.27,585.02 L254.80,584.43 L259.33,584.10 L263.86,584.01 L268.38,584.17 L272.91,584.55 L277.44,585.16 L281.96,585.97 L286.49,586.98 L291.02,588.19 L295.55,589.57 L300.07,591.13 L304.60,592.84 L309.13,594.71 L313.66,596.72 L318.19,598.86 L322.71,601.12 L327.24,603.50 L331.77,605.98 L336.29,608.55 L340.82,611.21 L345.35,613.94 L349.88,616.73 L354.40,619.58 L358.93,622.47 L363.46,625.40 L367.99,628.35 L372.51,631.32 L377.04,634.29 L381.57,637.26 L386.10,640.22 L390.62,643.15 L395.15,646.05 L399.68,648.90 L404.21,651.71 L408.73,654.45 L413.26,657.12 L417.79,659.71 L422.32,662.20 L426.84,664.60 L431.37,666.88 L435.90,669.05 L440.43,671.08 L444.95,672.97 L449.48,674.72 L454.01,676.30 L458.54,677.72 L463.06,678.95 L467.59,680.00 L472.12,680.85 L476.65,681.49 L481.17,681.92 L485.70,682.11 L490.23,682.07 L494.76,681.79 L499.28,681.24 L503.81,680.43 L508.34,679.35 L512.87,677.98 L517.39,676.31 L521.92,674.34 L526.45,672.05" fill="none" stroke="#4e8e88" stroke-width="2.2" stroke-linecap="round"/>
<path d="M91.81,939.21 L96.34,921.10 L100.87,903.63 L105.39,886.81 L109.92,870.62 L114.45,855.04 L118.97,840.08 L123.50,825.71 L128.03,811.94 L132.56,798.74 L137.09,786.11 L141.61,774.04 L146.14,762.51 L150.67,751.52 L155.19,741.06 L159.72,731.12 L164.25,721.68 L168.78,712.74 L173.31,704.29 L177.83,696.31 L182.36,688.79 L186.89,681.73 L191.42,675.12 L195.94,668.93 L200.47,663.18 L205.00,657.83 L209.52,652.89 L214.05,648.35 L218.58,644.18 L223.11,640.39 L227.63,636.96 L232.16,633.89 L236.69,631.15 L241.22,628.75 L245.75,626.66 L250.27,624.89 L254.80,623.42 L259.33,622.24 L263.86,621.33 L268.38,620.70 L272.91,620.33 L277.44,620.20 L281.96,620.32 L286.49,620.66 L291.02,621.22 L295.55,621.99 L300.07,622.96 L304.60,624.11 L309.13,625.44 L313.66,626.94 L318.19,628.59 L322.71,630.39 L327.24,632.32 L331.77,634.38 L336.29,636.56 L340.82,638.84 L345.35,641.21 L349.88,643.67 L354.40,646.20 L358.93,648.80 L363.46,651.45 L367.99,654.14 L372.51,656.86 L377.04,659.61 L381.57,662.37 L386.10,665.13 L390.62,667.88 L395.15,670.61 L399.68,673.32 L404.21,675.98 L408.73,678.60 L413.26,681.16 L417.79,683.64 L422.32,686.04 L426.84,688.36 L431.37,690.57 L435.90,692.67 L440.43,694.65 L444.95,696.50 L449.48,698.20 L454.01,699.75 L458.54,701.14 L463.06,702.36 L467.59,703.39 L472.12,704.23 L476.65,704.86 L481.17,705.28 L485.70,705.48 L490.23,705.44 L494.76,705.15 L499.28,704.61 L503.81,703.81 L508.34,702.72 L512.87,701.35 L517.39,699.69 L521.92,697.71 L526.45,695.42" fill="none" stroke="#f9b0d3" stroke-width="2.0" stroke-linecap="round"/>
<text transform="translate(31,243.5) rotate(-90)" font-family="'Liberation Serif', serif" font-size="21" font-style="italic" fill="#1a1a1a">ΔE<tspan font-size="16" dy="-8">*</tspan></text>
<text transform="translate(31.5,797) rotate(-90)" font-family="'Liberation Serif', serif" font-size="21" fill="#1a1a1a">Δ <tspan font-style="italic">E</tspan><tspan font-size="16" dy="-8">*</tspan></text>
<rect x="95.7" y="23.6" width="10.5" height="10.5" fill="#9dc4c1"/>
<circle cx="101" cy="54" r="5.9" fill="#fbd3ea"/>
<text x="129.0" y="35.8" font-family="'Liberation Serif', serif" font-size="18" fill="#1a1a1a" textLength="22" lengthAdjust="spacingAndGlyphs">R<tspan font-size="13" stroke="#1a1a1a" stroke-width="0.25" dy="6.3">oa</tspan></text>
<text x="129.0" y="60.8" font-family="'Liberation Serif', serif" font-size="18" fill="#1a1a1a" textLength="22" lengthAdjust="spacingAndGlyphs">R<tspan font-size="13" stroke="#1a1a1a" stroke-width="0.25" dy="6.3">ec</tspan></text>
<rect x="89.9" y="570.6" width="10.4" height="10.4" fill="#4f8f8a"/>
<circle cx="95.1" cy="600.6" r="5.8" fill="#f8b4d7"/>
<text x="123.3" y="581.7" font-family="'Liberation Serif', serif" font-size="18" fill="#1a1a1a" textLength="31.5" lengthAdjust="spacingAndGlyphs">Ru<tspan font-size="13" stroke="#1a1a1a" stroke-width="0.25" dy="6.3">oa</tspan></text>
<text x="123.3" y="607.1" font-family="'Liberation Serif', serif" font-size="18" fill="#1a1a1a" textLength="31.5" lengthAdjust="spacingAndGlyphs">Ru<tspan font-size="13" stroke="#1a1a1a" stroke-width="0.25" dy="6.3">ec</tspan></text>
<text x="433.8" y="111" font-family="'Liberation Serif', serif" font-size="16.5" fill="#559891" textLength="64.0" lengthAdjust="spacingAndGlyphs">R<tspan font-size="10" dy="-6">2</tspan><tspan dy="6">=0. 968</tspan></text>
<text x="331" y="130.5" font-family="'Liberation Serif', serif" font-size="16.5" fill="#559891" stroke="#559891" stroke-width="0.15" textLength="276" lengthAdjust="spacingAndGlyphs"><tspan font-style="italic">Δ E</tspan><tspan font-size="13" dy="-5" dx="-0.5" font-style="italic">*</tspan><tspan font-size="11" dy="10.5" dx="-1.5" font-style="italic">ab</tspan><tspan dy="-5.5">=4. 77+2. 15x−0. 138x<tspan font-size="10" dy="-6">2</tspan><tspan dy="6">​</tspan>+0. 00267x<tspan font-size="10" dy="-6">3</tspan></tspan></text>
<text x="144.4" y="237.7" font-family="'Liberation Serif', serif" font-size="16.5" fill="#e4519c" textLength="62.5" lengthAdjust="spacingAndGlyphs">R<tspan font-size="10" dy="-6">2</tspan><tspan dy="6">=0. 981</tspan></text>
<text x="132.2" y="265.1" font-family="'Liberation Serif', serif" font-size="16.5" fill="#e4519c" stroke="#e4519c" stroke-width="0.15" textLength="275.3" lengthAdjust="spacingAndGlyphs"><tspan font-style="italic">Δ E</tspan><tspan font-size="13" dy="-5" dx="-0.5" font-style="italic">*</tspan><tspan font-size="11" dy="10.5" dx="-1.5" font-style="italic">ab</tspan><tspan dy="-5.5">=2. 32+2. 62x−0. 165x<tspan font-size="10" dy="-6">2</tspan><tspan dy="6">​</tspan>+0. 00316x<tspan font-size="10" dy="-6">3</tspan></tspan></text>
<text x="327.2" y="589.1" font-family="'Liberation Serif', serif" font-size="16.5" fill="#559891" stroke="#559891" stroke-width="0.15" textLength="267.6" lengthAdjust="spacingAndGlyphs"><tspan font-style="italic">Δ E</tspan><tspan font-size="13" dy="-5" dx="-0.5" font-style="italic">*</tspan><tspan font-size="11" dy="10.5" dx="-1.5" font-style="italic">ab</tspan><tspan dy="-5.5">=5. 57+2. 22x−0. 156x<tspan font-size="10" dy="-6">2</tspan><tspan dy="6">​</tspan>+0. 0031x<tspan font-size="10" dy="-6">3</tspan></tspan></text>
<text x="404.2" y="622" font-family="'Liberation Serif', serif" font-size="16.5" fill="#559891" textLength="63.7" lengthAdjust="spacingAndGlyphs">R<tspan font-size="10" dy="-6">2</tspan><tspan dy="6">=0. 929</tspan></text>
<text x="170.4" y="763.9" font-family="'Liberation Serif', serif" font-size="16.5" fill="#e4519c" textLength="63.6" lengthAdjust="spacingAndGlyphs">R<tspan font-size="10" dy="-6">2</tspan><tspan dy="6">=0. 971</tspan></text>
<text x="147.9" y="797.3" font-family="'Liberation Serif', serif" font-size="16.5" fill="#e4519c" stroke="#e4519c" stroke-width="0.15" textLength="266.2" lengthAdjust="spacingAndGlyphs"><tspan font-style="italic">Δ E</tspan><tspan font-size="13" dy="-5" dx="-0.5" font-style="italic">*</tspan><tspan font-size="11" dy="10.5" dx="-1.5" font-style="italic">ab</tspan><tspan dy="-5.5">=2. 47+2. 52x−0. 168x<tspan font-size="10" dy="-6">2</tspan><tspan dy="6">​</tspan>+0. 0033x<tspan font-size="10" dy="-6">3</tspan></tspan></text>
<text x="426.2" y="186.90" font-family="'Liberation Sans', sans-serif" font-size="18.6" fill="#1a1a1a" stroke="#1a1a1a" stroke-width="0.4" textLength="173.6" lengthAdjust="spacingAndGlyphs">R<tspan font-size="12.5" dy="4">oa</tspan><tspan dy="-4" font-style="italic">ΔE</tspan><tspan font-size="10" dy="-6" font-weight="normal">*</tspan><tspan dy="6">(max)=14.85</tspan></text>
<text x="426.2" y="219.50" font-family="'Liberation Sans', sans-serif" font-size="18.6" fill="#1a1a1a" stroke="#1a1a1a" stroke-width="0.4" textLength="157.2" lengthAdjust="spacingAndGlyphs">R<tspan font-size="12.5" dy="4">oa</tspan><tspan dy="-4" font-style="italic">ΔE</tspan><tspan font-size="10" dy="-6" font-weight="normal">*</tspan><tspan dy="6">(min)=5.74</tspan></text>
<text x="426.2" y="251.30" font-family="'Liberation Sans', sans-serif" font-size="18.6" fill="#1a1a1a" stroke="#1a1a1a" stroke-width="0.4" textLength="172.4" lengthAdjust="spacingAndGlyphs">R<tspan font-size="12.5" dy="4">ec</tspan><tspan dy="-4" font-style="italic">ΔE</tspan><tspan font-size="10" dy="-6" font-weight="normal">*</tspan><tspan dy="6">(max)=15.06</tspan></text>
<text x="426.2" y="280.70" font-family="'Liberation Sans', sans-serif" font-size="18.6" fill="#1a1a1a" stroke="#1a1a1a" stroke-width="0.4" textLength="156.8" lengthAdjust="spacingAndGlyphs">R<tspan font-size="12.5" dy="4">ec</tspan><tspan dy="-4" font-style="italic">ΔE</tspan><tspan font-size="10" dy="-6" font-weight="normal">*</tspan><tspan dy="6">(min)=3.82</tspan></text>
<text x="430.2" y="772.60" font-family="'Liberation Sans', sans-serif" font-size="18.6" fill="#1a1a1a" stroke="#1a1a1a" stroke-width="0.4" textLength="157.8" lengthAdjust="spacingAndGlyphs">Ru<tspan font-size="12.5" dy="4">oa</tspan><tspan dy="-4" font-style="italic">ΔE</tspan><tspan font-size="10" dy="-6" font-weight="normal">*</tspan><tspan dy="6">(max)=15</tspan></text>
<text x="430.2" y="806.60" font-family="'Liberation Sans', sans-serif" font-size="18.6" fill="#1a1a1a" stroke="#1a1a1a" stroke-width="0.4" textLength="169.8" lengthAdjust="spacingAndGlyphs">Ru<tspan font-size="12.5" dy="4">oa</tspan><tspan dy="-4" font-style="italic">ΔE</tspan><tspan font-size="10" dy="-6" font-weight="normal">*</tspan><tspan dy="6">(min)=6.23</tspan></text>
<text x="430.2" y="837.00" font-family="'Liberation Sans', sans-serif" font-size="18.6" fill="#1a1a1a" stroke="#1a1a1a" stroke-width="0.4" textLength="184.7" lengthAdjust="spacingAndGlyphs">Ru<tspan font-size="12.5" dy="4">ec</tspan><tspan dy="-4" font-style="italic">ΔE</tspan><tspan font-size="10" dy="-6" font-weight="normal">*</tspan><tspan dy="6">(max)=13.94</tspan></text>
<text x="430.2" y="867.40" font-family="'Liberation Sans', sans-serif" font-size="18.6" fill="#1a1a1a" stroke="#1a1a1a" stroke-width="0.4" textLength="142.6" lengthAdjust="spacingAndGlyphs">Ru<tspan font-size="12.5" dy="4">ec</tspan><tspan dy="-4" font-style="italic">ΔE</tspan><tspan font-size="10" dy="-6" font-weight="normal">*</tspan><tspan dy="6">(min)=4</tspan></text>
</svg></body></html>
